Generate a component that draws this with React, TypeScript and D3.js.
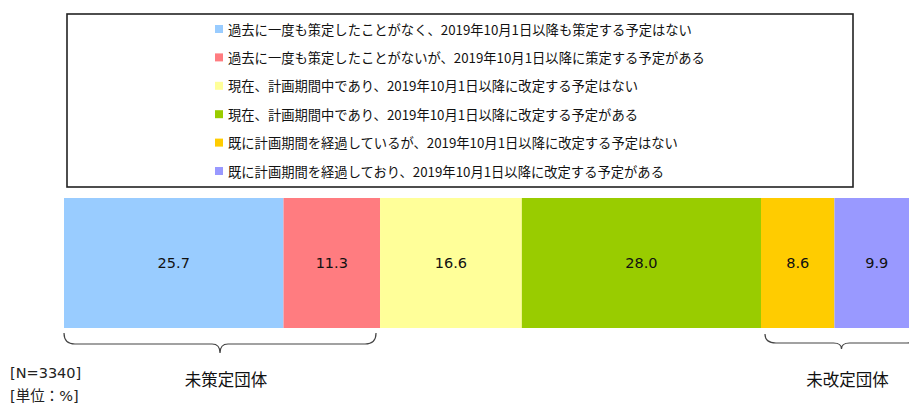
import React from "react";
import * as d3 from "d3";

const categories = [
  "過去に一度も策定したことがなく、2019年10月1日以降も策定する予定はない",
  "過去に一度も策定したことがないが、2019年10月1日以降に策定する予定がある",
  "現在、計画期間中であり、2019年10月1日以降に改定する予定はない",
  "現在、計画期間中であり、2019年10月1日以降に改定する予定がある",
  "既に計画期間を経過しているが、2019年10月1日以降に改定する予定はない",
  "既に計画期間を経過しており、2019年10月1日以降に改定する予定がある",
];
const values = [25.7, 11.3, 16.6, 28.0, 8.6, 9.9];
const colors = ["#99CCFF", "#FF7C80", "#FFFF99", "#99CC00", "#FFCC00", "#9999FF"];
const groupLabels = ["未策定団体", "未改定団体"];
const groupRanges: [number, number][] = [
  [0, 1],
  [4, 5],
];
const notes = ["[N=3340]", "[単位：%]"];

const W = 909;
const H = 405;

export default function App() {
  const total = d3.sum(values);
  const x = d3.scaleLinear().domain([0, total]).range([64, 919]);
  const cum = d3.cumsum(values);
  const starts = values.map((v, i) => cum[i] - v);
  const barTop = 198;
  const barBottom = 328;

  const legendY = d3
    .scalePoint<number>()
    .domain(d3.range(categories.length))
    .range([29, 171]);

  const braces = groupRanges.map(([a, b], gi) => {
    const x0 = x(starts[a]) + (gi === 0 ? 0 : 4);
    const x1 = x(cum[b]) - (gi === 0 ? 4 : 1);
    const mid = (x0 + x1) / 2;
    const yTop = gi === 0 ? 333 : 334;
    const yH = gi === 0 ? 344 : 343;
    const yTip = gi === 0 ? 353 : 349;
    const r = 11;
    const d = `M${x0},${yTop} Q${x0},${yH} ${x0 + r},${yH} L${mid - 8},${yH} Q${mid},${yH} ${mid},${yTip} Q${mid},${yH} ${mid + 8},${yH} L${x1 - r},${yH} Q${x1},${yH} ${x1},${yTop}`;
    return { d, mid, label: groupLabels[gi] };
  });

  const jp = "'Noto Sans CJK JP', 'DejaVu Sans', sans-serif";
  const num = "'DejaVu Sans', 'Noto Sans CJK JP', sans-serif";

  return (
    <svg
      width={W}
      height={H}
      style={{ position: "absolute", left: 0, top: 0, background: "#fff" }}
    >
      <rect x={67} y={14} width={786} height={173} fill="#fff" stroke="#222" strokeWidth={1.6} />
      {categories.map((c, i) => (
        <g key={c}>
          <rect x={215} y={legendY(i)! - 4} width={8} height={8} fill={colors[i]} />
          <text
            x={228}
            y={legendY(i)!}
            dominantBaseline="central"
            fontFamily={jp}
            fontSize={13.3}
            fill="#111"
          >
            {c}
          </text>
        </g>
      ))}
      {values.map((v, i) => (
        <g key={i}>
          <rect
            x={x(starts[i])}
            y={barTop}
            width={x(cum[i]) - x(starts[i])}
            height={barBottom - barTop}
            fill={colors[i]}
          />
          <text
            x={(x(starts[i]) + x(cum[i])) / 2}
            y={(barTop + barBottom) / 2}
            textAnchor="middle"
            dominantBaseline="central"
            fontFamily={num}
            fontSize={14.5}
            fill="#111"
          >
            {v.toFixed(1)}
          </text>
        </g>
      ))}
      {braces.map((b) => (
        <g key={b.label}>
          <path d={b.d} fill="none" stroke="#444" strokeWidth={1.2} />
          <text
            x={b.mid + 6}
            y={379}
            textAnchor="middle"
            dominantBaseline="central"
            fontFamily={jp}
            fontSize={16.5}
            fill="#111"
          >
            {b.label}
          </text>
        </g>
      ))}
      {notes.map((n, i) => (
        <text
          key={n}
          x={10}
          y={373 + i * 23}
          dominantBaseline="central"
          fontFamily={num}
          fontSize={14.5}
          fill="#222"
        >
          {n}
        </text>
      ))}
    </svg>
  );
}
